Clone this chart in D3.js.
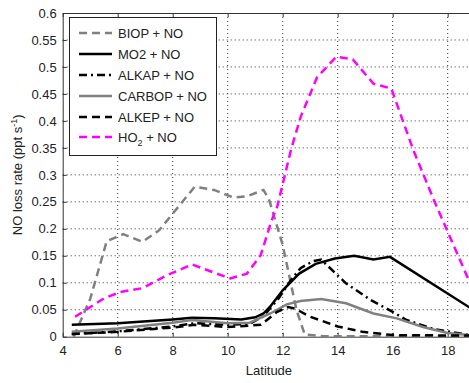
<!DOCTYPE html>
<html>
<head>
<meta charset="utf-8">
<script src="https://d3js.org/d3.v7.min.js"></script>
<style>
  body { margin: 0; background: #fff; }
  svg { display: block; font-family: "Liberation Sans", Arial, sans-serif; }
  .grid line { stroke: #333; stroke-width: 1; stroke-dasharray: 1,3; }
</style>
</head>
<body>
<div id="chart"></div>
<script>
// data: [latitude, NO loss rate]
var biop = [[4.4,0.0],[5.0,0.07],[5.6,0.177],[6.2,0.19],[6.9,0.176],[7.5,0.197],[8.0,0.228],[8.8,0.278],[9.5,0.272],[10.2,0.258],[10.7,0.26],[11.3,0.272],[11.5,0.255],[12.0,0.17],[12.5,0.05],[12.8,0.004],[13.5,0.001],[19,0.001]];
var mo2 = [[4.33,0.022],[6,0.025],[8,0.032],[8.7,0.035],[9.5,0.034],[10.5,0.032],[11,0.036],[11.3,0.043],[11.55,0.056],[12.0,0.086],[12.6,0.117],[13.2,0.135],[13.9,0.145],[14.6,0.15],[15.3,0.143],[15.9,0.148],[18.8,0.054]];
var alkap = [[4.33,0.005],[6,0.01],[8,0.019],[8.8,0.025],[10,0.022],[10.8,0.024],[11.3,0.038],[11.85,0.071],[12.3,0.105],[12.65,0.127],[13.1,0.14],[13.4,0.143],[14.3,0.099],[15.2,0.068],[16.0,0.046],[16.5,0.031],[17.5,0.014],[18.8,0.003]];
var carbop = [[4.33,0.009],[6,0.015],[8,0.026],[8.7,0.031],[10,0.025],[10.8,0.026],[11.55,0.043],[12.15,0.06],[12.65,0.066],[13.4,0.07],[14.3,0.062],[15.3,0.043],[16.15,0.034],[17.1,0.018],[18.0,0.007],[18.8,0.003]];
var alkep = [[4.33,0.005],[6,0.009],[8,0.017],[8.8,0.022],[10,0.018],[11.2,0.022],[11.8,0.046],[12.2,0.055],[12.45,0.052],[13.0,0.037],[14.0,0.019],[14.9,0.009],[16,0.003],[18.8,0.002]];
var ho2 = [[4.45,0.037],[5.5,0.071],[6.1,0.083],[6.9,0.09],[7.8,0.114],[8.7,0.134],[9.6,0.117],[10.1,0.108],[10.7,0.117],[11.2,0.151],[11.6,0.216],[11.8,0.241],[12.3,0.346],[12.65,0.407],[13.25,0.481],[13.95,0.519],[14.55,0.514],[15.3,0.469],[15.95,0.46],[16.75,0.346],[17.5,0.253],[18.8,0.101]];

var seriesNames = ["BIOP + NO", "MO2 + NO", "ALKAP + NO", "CARBOP + NO", "ALKEP + NO", "HO2 + NO"];
var seriesData = [biop, mo2, alkap, carbop, alkep, ho2];
var colors = ["#808080", "#000", "#000", "#808080", "#000", "#ff00ff"];
var dashes = ["8,5", null, "8,4,2,4", null, "8,5", "8,5"];

var xTicks = [4, 6, 8, 10, 12, 14, 16, 18];
var yTicks = [0, 0.05, 0.1, 0.15, 0.2, 0.25, 0.3, 0.35, 0.4, 0.45, 0.5, 0.55, 0.6];

var W = 469, H = 383;
var pLeft = 62.7, pRight = 475.2, pTop = 13, pBottom = 336.7;

var svg = d3.select("#chart").append("svg")
    .attr("width", W)
    .attr("height", H);

var x = d3.scaleLinear().domain([4, 19]).range([pLeft, pRight]);
var y = d3.scaleLinear().domain([0, 0.6]).range([pBottom, pTop]);

// dotted grid
var grid = svg.append("g").attr("class", "grid");
grid.selectAll(".gx").data(xTicks.slice(1)).enter().append("line")
    .attr("x1", d => x(d)).attr("x2", d => x(d))
    .attr("y1", pTop).attr("y2", pBottom);
grid.selectAll(".gy").data(yTicks.slice(1, -1)).enter().append("line")
    .attr("x1", pLeft).attr("x2", pRight)
    .attr("y1", d => y(d)).attr("y2", d => y(d));

// axes
svg.append("g")
    .attr("transform", "translate(0," + pBottom + ")")
    .call(d3.axisBottom(x).tickValues(xTicks).tickFormat(d3.format("d")).tickSizeInner(-4).tickSizeOuter(0).tickPadding(9));
svg.append("g")
    .attr("transform", "translate(0," + pTop + ")")
    .call(d3.axisTop(x).tickValues(xTicks).tickFormat("").tickSizeInner(-4).tickSizeOuter(0));
svg.append("g")
    .attr("transform", "translate(" + pLeft + ",0)")
    .call(d3.axisLeft(y).tickValues(yTicks).tickFormat(d => String(d)).tickSizeInner(-4).tickSizeOuter(0).tickPadding(6));

svg.selectAll(".domain").attr("stroke", "#333");
svg.selectAll(".tick line").attr("stroke", "#333");
svg.selectAll(".tick text").attr("font-size", 13).attr("fill", "#222")
    .attr("font-family", "Liberation Sans, Arial, sans-serif");

// lines
var line = d3.line().x(d => x(d[0])).y(d => y(d[1]));
var plot = svg.append("g");
seriesData.forEach(function(s, i) {
  plot.append("path")
      .datum(s)
      .attr("d", line)
      .attr("fill", "none")
      .attr("stroke", colors[i])
      .attr("stroke-width", 2.5)
      .attr("stroke-dasharray", dashes[i]);
});

// axis labels
svg.append("text")
    .attr("x", x(11.5)).attr("y", 375)
    .attr("text-anchor", "middle")
    .attr("font-size", 13).attr("fill", "#222")
    .text("Latitude");

var ylab = svg.append("text")
    .attr("transform", "translate(22," + ((pTop + pBottom) / 2) + ") rotate(-90)")
    .attr("text-anchor", "middle")
    .attr("font-size", 13).attr("fill", "#222");
ylab.append("tspan").text("NO loss rate (ppt s");
ylab.append("tspan").attr("dy", -5).attr("font-size", 9).text("-1");
ylab.append("tspan").attr("dy", 5).text(")");

// legend
var lg = svg.append("g");
lg.append("rect")
    .attr("x", 69.5).attr("y", 17.5)
    .attr("width", 147).attr("height", 138)
    .attr("fill", "#fff").attr("stroke", "#222").attr("stroke-width", 1);
var rowY = [33, 54, 75, 96, 117, 137];
seriesNames.forEach(function(name, i) {
  lg.append("line")
      .attr("x1", 79).attr("x2", 112)
      .attr("y1", rowY[i]).attr("y2", rowY[i])
      .attr("stroke", colors[i]).attr("stroke-width", 2.5)
      .attr("stroke-dasharray", dashes[i]);
  var t = lg.append("text")
      .attr("x", 118).attr("y", rowY[i] + 5)
      .attr("font-size", 13).attr("fill", "#222");
  if (name === "HO2 + NO") {
    t.append("tspan").text("HO");
    t.append("tspan").attr("dy", 4).attr("font-size", 9).text("2");
    t.append("tspan").attr("dy", -4).text(" + NO");
  } else {
    t.text(name);
  }
});
</script>
</body>
</html>
